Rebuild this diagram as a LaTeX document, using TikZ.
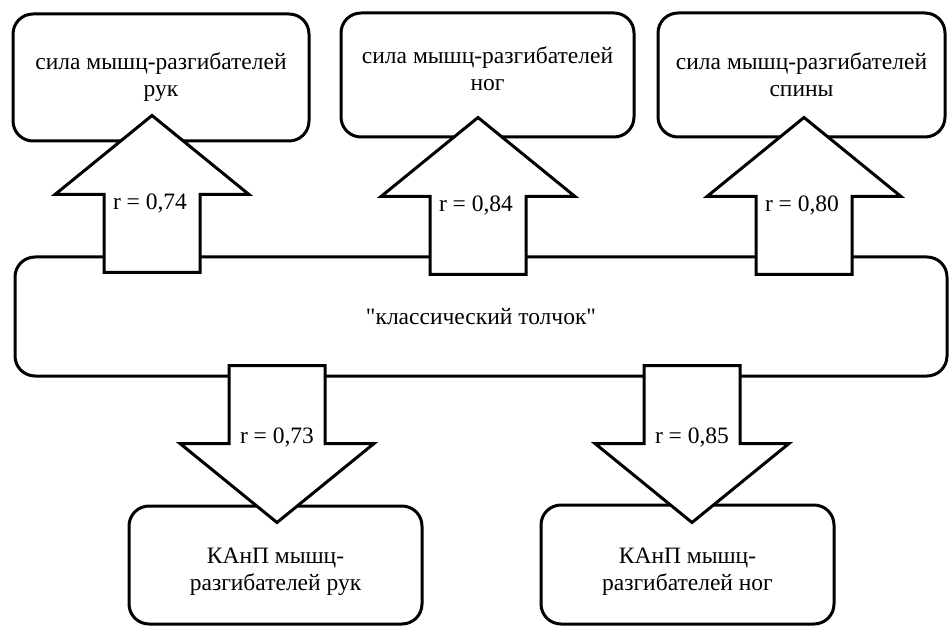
\documentclass[tikz,border=0pt]{standalone}
\usepackage{fontspec}
\setmainfont{Liberation Serif}
\usetikzlibrary{positioning}

\begin{document}
\begin{tikzpicture}[
  x=1pt, y=-1pt,
  every node/.style={font=\fontsize{23.5}{27}\selectfont},
  box/.style={draw, line width=3pt, rounded corners=20pt, align=center, fill=white},
  textup/.style={execute at end node={\rule[-#1]{0pt}{0pt}}},
  blockarr/.style={draw, line width=3pt, fill=white},
  rlabel/.style={inner sep=1pt},
  pics/uparr/.style={code={
    \draw[blockarr] (0,0) -- (97,79) -- (48,79) -- (48,157) -- (-48,157) -- (-48,79) -- (-97,79) -- cycle;
    \node[rlabel] (-r) at (-2,88) {#1};
  }},
  pics/downarr/.style={code={
    \draw[blockarr] (0,0) -- (97,-79) -- (48,-79) -- (48,-157) -- (-48,-157) -- (-48,-79) -- (-97,-79) -- cycle;
    \node[rlabel] (-r) at (0,-85) {#1};
  }}
]
\useasboundingbox (0,0) rectangle (950,628);

% Nodes
\node[box, minimum width=296pt, minimum height=127pt] (sarms) at (161,77.5)
  {сила мышц-разгибателей\\рук};
\node[box, textup=12pt, minimum width=293pt, minimum height=124pt] (slegs) at (487.5,75)
  {сила мышц-разгибателей\\ног};
\node[box, minimum width=287pt, minimum height=124pt] (sback) at (801.5,75)
  {сила мышц-разгибателей\\спины};

\node[box, minimum width=932pt, minimum height=119pt] (lift) at (481,316.5)
  {\textquotedbl классический толчок\textquotedbl};

\node[box, minimum width=293pt, minimum height=118pt] (karms) at (275.5,565)
  {\rule{0pt}{30pt}КАнП мышц-\\разгибателей рук};
\node[box, minimum width=293pt, minimum height=119pt] (klegs) at (687.5,564.5)
  {\rule{0pt}{30pt}КАнП мышц-\\разгибателей ног};

% Arrows from the lift to the strength boxes
\pic (a1) at ([xshift=-9pt,yshift=27pt]sarms.south) {uparr={r = 0,74}};
\pic (a2) at ([xshift=-9.5pt,yshift=21pt]slegs.south) {uparr={r = 0,84}};
\pic (a3) at ([xshift=2.5pt,yshift=21pt]sback.south) {uparr={r = 0,80}};

% Arrows from the lift to the KAnP boxes
\pic (a4) at ([xshift=1.5pt,yshift=-18pt]karms.north) {downarr={r = 0,73}};
\pic (a5) at ([xshift=4.5pt,yshift=-19pt]klegs.north) {downarr={r = 0,85}};
\end{tikzpicture}
\end{document}
